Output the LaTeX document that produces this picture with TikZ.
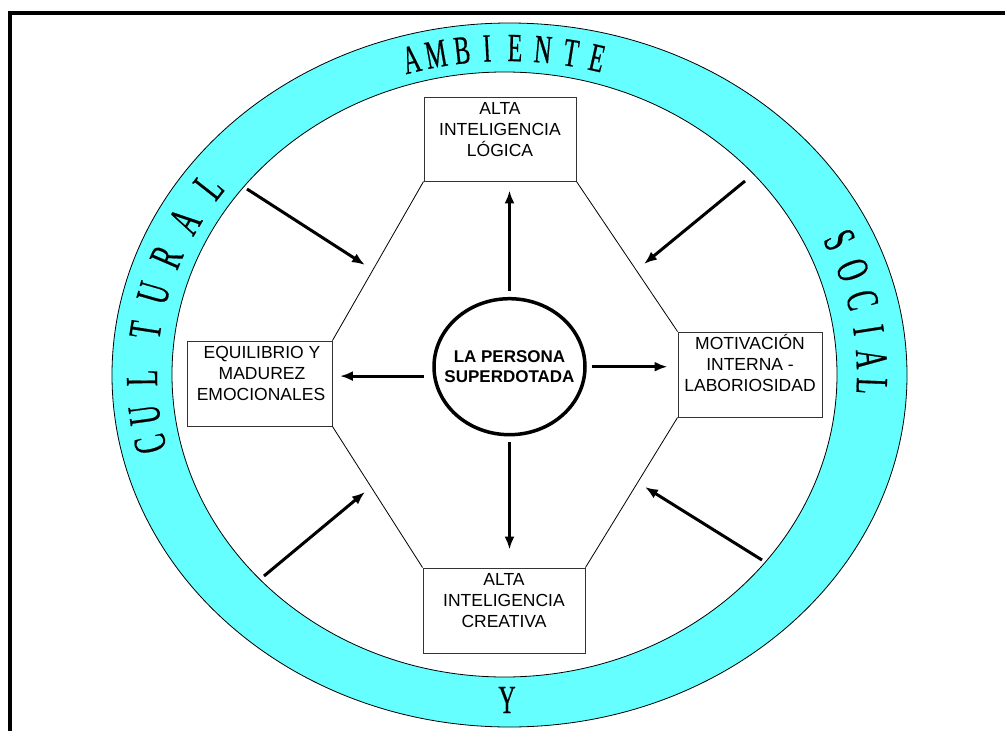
\documentclass[tikz,border=0pt]{standalone}
\usepackage{fontspec}
\usetikzlibrary{shapes.geometric,arrows.meta,calc}
\newfontfamily\boxfont{Liberation Sans}
\newfontfamily\ringfont[FakeBold=0.4,FakeStretch=0.6]{Liberation Serif}
\newfontfamily\sidefont[FakeBold=0.4,FakeStretch=0.58]{Liberation Serif}
\definecolor{RingCyan}{HTML}{66FFFF}
\definecolor{BoxGray}{HTML}{333333}
\tikzset{
    block/.style = {draw=BoxGray, rectangle, line width=0.9pt,
        inner sep=0pt,
        font=\boxfont\fontsize{17.5}{21}\selectfont},
    person/.style = {draw, ellipse, line width=3.5pt,
        minimum width=151pt, minimum height=136pt,
        inner xsep=-13pt, inner ysep=0pt, align=center,
        font=\boxfont\bfseries\fontsize{17}{20}\selectfont},
    arrow/.style = {draw, line width=3pt, -{Latex[length=13pt,width=10pt]}},
    side/.style = {draw, line width=0.8pt},
    ringletter/.style = {inner sep=0pt, font=\ringfont\fontsize{40}{40}\selectfont},
    sideletter/.style = {inner sep=0pt, font=\sidefont\fontsize{46}{46}\selectfont}
}
\newcommand{\blocktext}[3]{\parbox[c][#2][t]{#1}{\centering\rule{0pt}{17pt}#3}}
\newcommand{\ringchar}[4][ringletter]{\node[#1, rotate={atan2(-327*cos(#3),365*sin(#3))}]
    (#2) at ({507+365*cos(#3)},{375-327*sin(#3)}) {#4};}

\begin{document}
\begin{tikzpicture}[x=1pt,y=-1pt]
        \useasboundingbox (0,0) rectangle (1005,731);
        % marco
        \draw[line width=4pt] (10,745) -- (10,13) -- (1020,13);
        % anillo del ambiente
        \fill[RingCyan, even odd rule] (509.5,375) ellipse (397.5pt and 352pt)
             (504.5,374.5) ellipse (332.5pt and 302.5pt);
        \draw[line width=0.8pt] (509.5,375) ellipse (397.5pt and 352pt);
        \draw[line width=0.8pt] (504.5,374.5) ellipse (332.5pt and 302.5pt);
        % AMBIENTE
        \ringchar{am1}{105.2}{A}
        \ringchar{am2}{101.22}{M}
        \ringchar{am3}{97.08}{B}
        \ringchar{am4}{93.14}{I}
        \ringchar{am5}{88.74}{E}
        \ringchar{am6}{84.34}{N}
        \ringchar{am7}{79.90}{T}
        \ringchar{am8}{75.72}{E}
        % SOCIAL
        \ringchar[sideletter]{so1}{24.4}{S}
        \ringchar[sideletter]{so2}{18.73}{O}
        \ringchar[sideletter]{so3}{13.26}{C}
        \ringchar[sideletter]{so4}{7.91}{I}
        \ringchar[sideletter]{so5}{2.80}{A}
        \ringchar[sideletter]{so6}{-1.93}{L}
        % Y
        \node[ringletter] (ringY) at (507,700) {Y};
        % CULTURAL
        \ringchar[sideletter]{cu1}{192.18}{C}
        \ringchar[sideletter]{cu2}{187.03}{U}
        \ringchar[sideletter]{cu3}{180.53}{L}
        \ringchar[sideletter]{cu4}{172.09}{T}
        \ringchar[sideletter]{cu5}{165.48}{U}
        \ringchar[sideletter]{cu6}{158.85}{R}
        \ringchar[sideletter]{cu7}{151.90}{A}
        \ringchar[sideletter]{cu8}{144.8}{L}
        % bloques
        \node[block] (logica) at (500,139) {\blocktext{152pt}{84pt}{ALTA\\INTELIGENCIA\\LÓGICA}};
        \node[block] (equilibrio) at (259.5,383.5) {\blocktext{145pt}{85pt}{\hspace*{5pt}EQUILIBRIO Y\\\hspace*{5pt}MADUREZ\\\hspace*{3pt}EMOCIONALES}};
        \node[block] (motivacion) at (750,374.5) {\blocktext{144pt}{85pt}{MOTIVACIÓN\\INTERNA -\\LABORIOSIDAD}};
        \node[block] (creativa) at (504,610.5) {\blocktext{162pt}{85pt}{ALTA\\INTELIGENCIA\\CREATIVA}};
        \node[person] (persona) at (509.5,366.7) {LA PERSONA\\SUPERDOTADA};
        % hexagono
        \draw[side] (logica.south west) -- (equilibrio.north east);
        \draw[side] (logica.south east) -- (motivacion.north west);
        \draw[side] (equilibrio.south east) -- (creativa.north west);
        \draw[side] (motivacion.south west) -- (creativa.north east);
        % flechas desde la persona
        \draw[arrow, shorten <=6pt, shorten >=9pt] (persona.north) -- (persona.north |- logica.south);
        \draw[arrow, shorten <=9pt, shorten >=7.5pt] (persona.187) -- (equilibrio.east |- persona.187);
        \draw[arrow, shorten <=5pt, shorten >=10pt] (persona.east) -- (motivacion.west |- persona.east);
        \draw[arrow, shorten <=6pt, shorten >=18pt] (persona.south) -- (persona.south |- creativa.north);
        % flechas del ambiente
        \coordinate (tlA) at (247,189);  \coordinate (tlB) at (365,265);
        \coordinate (trA) at (745,181);  \coordinate (trB) at (644,264);
        \coordinate (blA) at (264,576);  \coordinate (blB) at (365,492);
        \coordinate (brA) at (762,560);  \coordinate (brB) at (645,487);
        \draw[arrow] (tlA) -- (tlB);
        \draw[arrow] (trA) -- (trB);
        \draw[arrow] (blA) -- (blB);
        \draw[arrow] (brA) -- (brB);
\end{tikzpicture}
\end{document}
